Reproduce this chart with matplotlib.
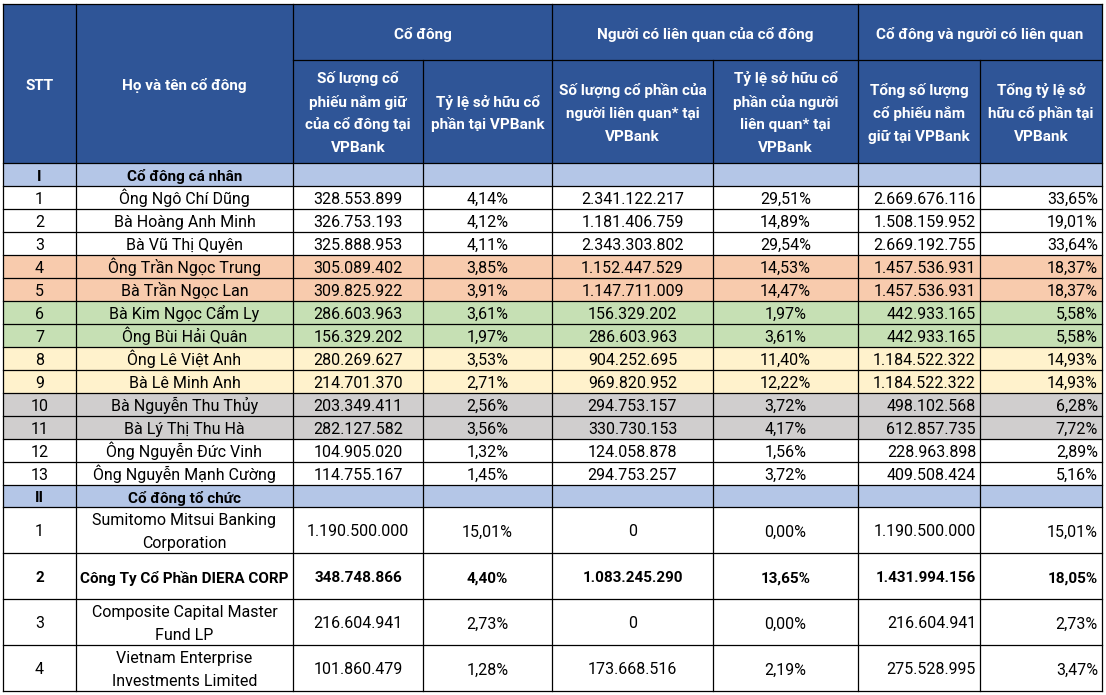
import matplotlib.pyplot as plt
from matplotlib.patches import Rectangle

plt.rcParams['font.family'] = ['Roboto', 'DejaVu Sans']

# ---- data ----
nhom_tieu_de = ['Cổ đông', 'Người có liên quan của cổ đông', 'Cổ đông và người có liên quan']
cot_tieu_de = ['STT', 'Họ và tên cổ đông',
               'Số lượng cổ\nphiếu nắm giữ\ncủa cổ đông tại\nVPBank',
               'Tỷ lệ sở hữu cổ\nphần tại VPBank',
               'Số lượng cổ phần của\nngười liên quan* tại\nVPBank',
               'Tỷ lệ sở hữu cổ\nphần của người\nliên quan* tại\nVPBank',
               'Tổng số lượng\ncổ phiếu nắm\ngiữ tại VPBank',
               'Tổng tỷ lệ sở\nhữu cổ phần tại\nVPBank']

nhom_1 = ('I', 'Cổ đông cá nhân')
ten_ca_nhan = ['Ông Ngô Chí Dũng', 'Bà Hoàng Anh Minh', 'Bà Vũ Thị Quyên',
               'Ông Trần Ngọc Trung', 'Bà Trần Ngọc Lan', 'Bà Kim Ngọc Cẩm Ly',
               'Ông Bùi Hải Quân', 'Ông Lê Việt Anh', 'Bà Lê Minh Anh',
               'Bà Nguyễn Thu Thủy', 'Bà Lý Thị Thu Hà', 'Ông Nguyễn Đức Vinh',
               'Ông Nguyễn Mạnh Cường']
cp_ca_nhan = ['328.553.899', '326.753.193', '325.888.953', '305.089.402', '309.825.922',
              '286.603.963', '156.329.202', '280.269.627', '214.701.370', '203.349.411',
              '282.127.582', '104.905.020', '114.755.167']
tl_ca_nhan = ['4,14%', '4,12%', '4,11%', '3,85%', '3,91%', '3,61%', '1,97%', '3,53%',
              '2,71%', '2,56%', '3,56%', '1,32%', '1,45%']
cp_lq_ca_nhan = ['2.341.122.217', '1.181.406.759', '2.343.303.802', '1.152.447.529',
                 '1.147.711.009', '156.329.202', '286.603.963', '904.252.695',
                 '969.820.952', '294.753.157', '330.730.153', '124.058.878', '294.753.257']
tl_lq_ca_nhan = ['29,51%', '14,89%', '29,54%', '14,53%', '14,47%', '1,97%', '3,61%',
                 '11,40%', '12,22%', '3,72%', '4,17%', '1,56%', '3,72%']
tong_cp_ca_nhan = ['2.669.676.116', '1.508.159.952', '2.669.192.755', '1.457.536.931',
                   '1.457.536.931', '442.933.165', '442.933.165', '1.184.522.322',
                   '1.184.522.322', '498.102.568', '612.857.735', '228.963.898', '409.508.424']
tong_tl_ca_nhan = ['33,65%', '19,01%', '33,64%', '18,37%', '18,37%', '5,58%', '5,58%',
                   '14,93%', '14,93%', '6,28%', '7,72%', '2,89%', '5,16%']
mau_ca_nhan = ['w', 'w', 'w', 'cam', 'cam', 'xanh', 'xanh', 'vang', 'vang',
               'xam', 'xam', 'w', 'w']

nhom_2 = ('II', 'Cổ đông tổ chức')
ten_to_chuc = ['Sumitomo Mitsui Banking\nCorporation', 'Công Ty Cổ Phần DIERA CORP',
               'Composite Capital Master\nFund LP', 'Vietnam Enterprise\nInvestments Limited']
cp_to_chuc = ['1.190.500.000', '348.748.866', '216.604.941', '101.860.479']
tl_to_chuc = ['15,01%', '4,40%', '2,73%', '1,28%']
cp_lq_to_chuc = ['0', '1.083.245.290', '0', '173.668.516']
tl_lq_to_chuc = ['0,00%', '13,65%', '0,00%', '2,19%']
tong_cp_to_chuc = ['1.190.500.000', '1.431.994.156', '216.604.941', '275.528.995']
tong_tl_to_chuc = ['15,01%', '18,05%', '2,73%', '3,47%']
dam_to_chuc = [False, True, False, False]

# ---- layout / style ----
mau = {'w': 'white', 'cam': '#F8CBAD', 'xanh': '#C6E0B4', 'vang': '#FFF2CC', 'xam': '#D0CECE'}
header_blue = '#2F5597'
section_blue = '#B4C6E7'
x_edges = [3, 76, 293, 423, 552, 713, 858, 980, 1102]
align = ['center', 'center', 'center', 'center', 'center', 'center', 'right', 'right']
y_top, y_mid, y_head = 4, 60, 163
line_h = 23
fs_head = 11
fs_body = 11.5
fs_bold = 11

fig = plt.figure(figsize=(11.06, 6.95), dpi=100)
ax = fig.add_axes([0, 0, 1, 1])
ax.set_xlim(0, 1106)
ax.set_ylim(695, 0)
ax.axis('off')


def put(x0, x1, y0, y1, txt, a='center', bold=False, color='black', fs=fs_body):
    x = x1 - 4 if a == 'right' else (x0 + x1) / 2
    lines = txt.split('\n')
    yc = (y0 + y1) / 2
    for k, ln in enumerate(lines):
        yb = yc + (k - (len(lines) - 1) / 2) * line_h + 6.5
        ax.text(x, yb, ln, ha=a, va='baseline', fontsize=fs, color=color,
                fontweight='bold' if bold else 'normal')


def hline(y, xa, xb):
    ax.plot([xa, xb], [y, y], color='black', lw=0.9, solid_capstyle='projecting')


def vline(x, ya, yb):
    ax.plot([x, x], [ya, yb], color='black', lw=0.9, solid_capstyle='projecting')


# header
ax.add_patch(Rectangle((x_edges[0], y_top), x_edges[-1] - x_edges[0], y_head - y_top,
                       facecolor=header_blue, edgecolor='none'))
for g, name in enumerate(nhom_tieu_de):
    put(x_edges[2 + 2 * g], x_edges[4 + 2 * g], y_top, y_mid, name, bold=True,
        color='white', fs=fs_head)
for c, name in enumerate(cot_tieu_de):
    ya = y_top if c < 2 else y_mid
    put(x_edges[c], x_edges[c + 1], ya, y_head, name, bold=True, color='white', fs=fs_head)

# body rows
rows = []
rows.append(('sec', nhom_1, 23))
for i in range(len(ten_ca_nhan)):
    rows.append(('row', [str(i + 1), ten_ca_nhan[i], cp_ca_nhan[i], tl_ca_nhan[i],
                         cp_lq_ca_nhan[i], tl_lq_ca_nhan[i], tong_cp_ca_nhan[i],
                         tong_tl_ca_nhan[i]], 23, mau[mau_ca_nhan[i]], False))
rows.append(('sec', nhom_2, 22))
for i in range(len(ten_to_chuc)):
    rows.append(('row', [str(i + 1), ten_to_chuc[i], cp_to_chuc[i], tl_to_chuc[i],
                         cp_lq_to_chuc[i], tl_lq_to_chuc[i], tong_cp_to_chuc[i],
                         tong_tl_to_chuc[i]], 46, 'white', dam_to_chuc[i]))

y = y_head
row_edges = [y]
for r in rows:
    h = r[2]
    if r[0] == 'sec':
        ax.add_patch(Rectangle((x_edges[0], y), x_edges[-1] - x_edges[0], h,
                               facecolor=section_blue, edgecolor='none'))
        put(x_edges[0], x_edges[1], y, y + h, r[1][0], bold=True, fs=fs_bold)
        put(x_edges[1], x_edges[2], y, y + h, r[1][1], bold=True, fs=fs_bold)
    else:
        ax.add_patch(Rectangle((x_edges[0], y), x_edges[-1] - x_edges[0], h,
                               facecolor=r[3], edgecolor='none'))
        for c, v in enumerate(r[1]):
            put(x_edges[c], x_edges[c + 1], y, y + h, v, a=align[c], bold=r[4],
                fs=fs_bold if r[4] else fs_body)
    y += h
    row_edges.append(y)

# grid lines
hline(y_top, x_edges[0], x_edges[-1])
hline(y_mid, x_edges[2], x_edges[-1])
for ye in row_edges:
    hline(ye, x_edges[0], x_edges[-1])
for k, xe in enumerate(x_edges):
    if k in (3, 5, 7):
        vline(xe, y_mid, row_edges[-1])
    else:
        vline(xe, y_top, row_edges[-1])

fig.savefig('out.png', dpi=100, facecolor='white')
